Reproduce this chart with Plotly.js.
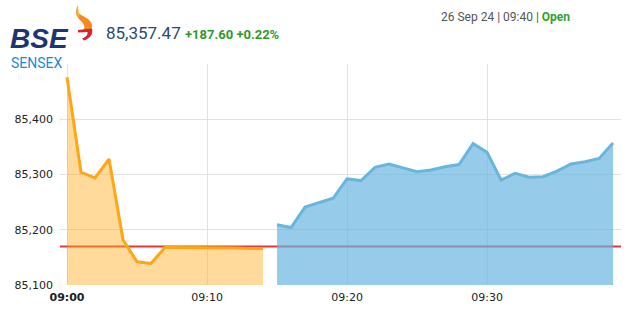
<!DOCTYPE html>
<html>
<head>
<meta charset="utf-8">
<script src="https://cdn.plot.ly/plotly-3.0.1.min.js"></script>
<style>
  html, body { margin: 0; padding: 0; background: #fff; }
  #chart { width: 643px; height: 320px; }
</style>
</head>
<body>
<div id="chart"></div>
<script>
// ---- data ----
const sessionDate = '2024-09-26';
const preTimes = ['09:00','09:01','09:02','09:03','09:04','09:05','09:06','09:07','09:08','09:09','09:10','09:11','09:12','09:13','09:14'];
const preValues = [85476, 85304, 85294, 85328, 85182, 85142, 85139, 85168, 85168, 85168, 85167, 85167, 85167, 85166, 85166];
const mktTimes = ['09:15','09:16','09:17','09:18','09:19','09:20','09:21','09:22','09:23','09:24','09:25','09:26','09:27','09:28','09:29','09:30','09:31','09:32','09:33','09:34','09:35','09:36','09:37','09:38','09:39'];
const mktValues = [85209, 85204, 85241, 85249, 85257, 85292, 85289, 85313, 85319, 85312, 85305, 85308, 85314, 85318, 85356, 85340, 85290, 85302, 85295, 85296, 85306, 85319, 85323, 85329, 85357];
const prevClose = 85169.87;
const xTickTimes = ['09:00','09:10','09:20','09:30'];
const yTickVals = [85100, 85200, 85300, 85400, 85500];
const yTickText = ['85,100', '85,200', '85,300', '85,400', ''];
const lastPrice = '85,357.47';
const change = '+187.60 +0.22%';
const stamp = '26 Sep 24 | 09:40 | ';
const status = 'Open';

// ---- helpers ----
const W = 643, H = 320;
const M = {l: 60, r: 22, t: 64, b: 35};
const PW = W - M.l - M.r, PH = H - M.t - M.b;
const px = x => (x - M.l) / PW;
const py = y => (H - M.b - y) / PH;
const dt = t => sessionDate + ' ' + t;
function pathPx(cmds) {
  return cmds.map(c => typeof c === 'string' ? c : (px(c[0]).toFixed(5) + ',' + py(c[1]).toFixed(5))).join(' ');
}

const traces = [
  {
    x: [dt('08:59:30'), dt('09:39:34')],
    y: [prevClose, prevClose],
    mode: 'lines', line: {color: '#e2383c', width: 2},
    hoverinfo: 'skip', showlegend: false
  },
  {
    x: preTimes.map(dt), y: preValues,
    mode: 'lines', fill: 'tozeroy',
    fillcolor: 'rgba(255,172,32,0.45)',
    line: {color: '#ffa617', width: 3},
    showlegend: false
  },
  {
    x: mktTimes.map(dt), y: mktValues,
    mode: 'lines', fill: 'tozeroy',
    fillcolor: 'rgba(100,180,222,0.68)',
    line: {color: '#69b6dc', width: 3},
    showlegend: false
  }
];

const flameOrange = pathPx(['M', [78,5], 'C', [73,12], [82,15], [88,19], 'C', [93,23], [93,28], [90,30], 'L', [83,30], 'C', [86,27], [84,24], [80,20], 'C', [75,15], [75,10], [78,5], 'Z']);
const flameYellow = pathPx(['M', [78,5], 'C', [75,10], [76,14], [80,18], 'C', [79,14], [78,10], [78,5], 'Z']);
const flameRed = pathPx(['M', [78,30], 'L', [92,28.5], 'C', [93.5,34], [90,38.5], [84,40.5], 'L', [82,38.5], 'C', [86,37], [88,35], [87.5,32], 'L', [78,32.5], 'Z']);

const layout = {
  width: W, height: H,
  margin: M,
  paper_bgcolor: '#ffffff', plot_bgcolor: '#ffffff',
  showlegend: false,
  xaxis: {
    type: 'date',
    range: [dt('08:59:30'), dt('09:39:34')],
    tickvals: xTickTimes.map(dt),
    ticktext: xTickTimes.map((t, i) => i === 0 ? '<b>' + t + '</b>' : t),
    showgrid: true, gridcolor: '#e2e2e2', gridwidth: 1,
    zeroline: false, showline: false, ticks: '',
    tickfont: {family: 'DejaVu Sans', size: 11, color: '#222'},
    ticklabelstandoff: 4,
    fixedrange: true
  },
  yaxis: {
    range: [85100, 85500],
    tickvals: yTickVals, ticktext: yTickText,
    showgrid: true, gridcolor: '#e2e2e2', gridwidth: 1,
    zeroline: false, showline: false, ticks: '',
    tickfont: {family: 'DejaVu Sans', size: 11, color: '#222'},
    ticklabelstandoff: 6,
    fixedrange: true
  },
  shapes: [
    {type: 'path', xref: 'paper', yref: 'paper', path: flameOrange, fillcolor: '#f58a1f', line: {width: 0}, layer: 'above'},
    {type: 'path', xref: 'paper', yref: 'paper', path: flameYellow, fillcolor: '#fbb03b', line: {width: 0}, layer: 'above'},
    {type: 'path', xref: 'paper', yref: 'paper', path: flameRed, fillcolor: '#d52631', line: {width: 0}, layer: 'above'}
  ],
  annotations: [
    {text: '<b><i>BSE</i></b>', xref: 'paper', yref: 'paper', x: px(9), y: py(38.5), xanchor: 'left', yanchor: 'middle', showarrow: false,
     borderpad: 0, font: {family: 'Liberation Sans', size: 28, color: '#1d3571'}},
    {text: 'SENSEX', xref: 'paper', yref: 'paper', x: px(10), y: py(62.5), xanchor: 'left', yanchor: 'middle', showarrow: false,
     borderpad: 0, font: {family: 'Roboto', size: 14, color: '#1a8ad4'}},
    {text: lastPrice, xref: 'paper', yref: 'paper', x: px(104), y: py(33), xanchor: 'left', yanchor: 'middle', showarrow: false,
     font: {family: 'Roboto', size: 17, color: '#2b4a6b'}},
    {text: '<b>' + change + '</b>', xref: 'paper', yref: 'paper', x: px(183), y: py(34), xanchor: 'left', yanchor: 'middle', showarrow: false,
     font: {family: 'Roboto', size: 13, color: '#2e9a2e'}},
    {text: stamp + '<b><span style="color:#2ea32e">' + status + '</span></b>', xref: 'paper', yref: 'paper', x: px(439), y: py(17), xanchor: 'left', yanchor: 'middle', showarrow: false,
     font: {family: 'Roboto', size: 12, color: '#555555'}}
  ]
};

Plotly.newPlot('chart', traces, layout, {displayModeBar: false, staticPlot: true});
</script>
</body>
</html>
